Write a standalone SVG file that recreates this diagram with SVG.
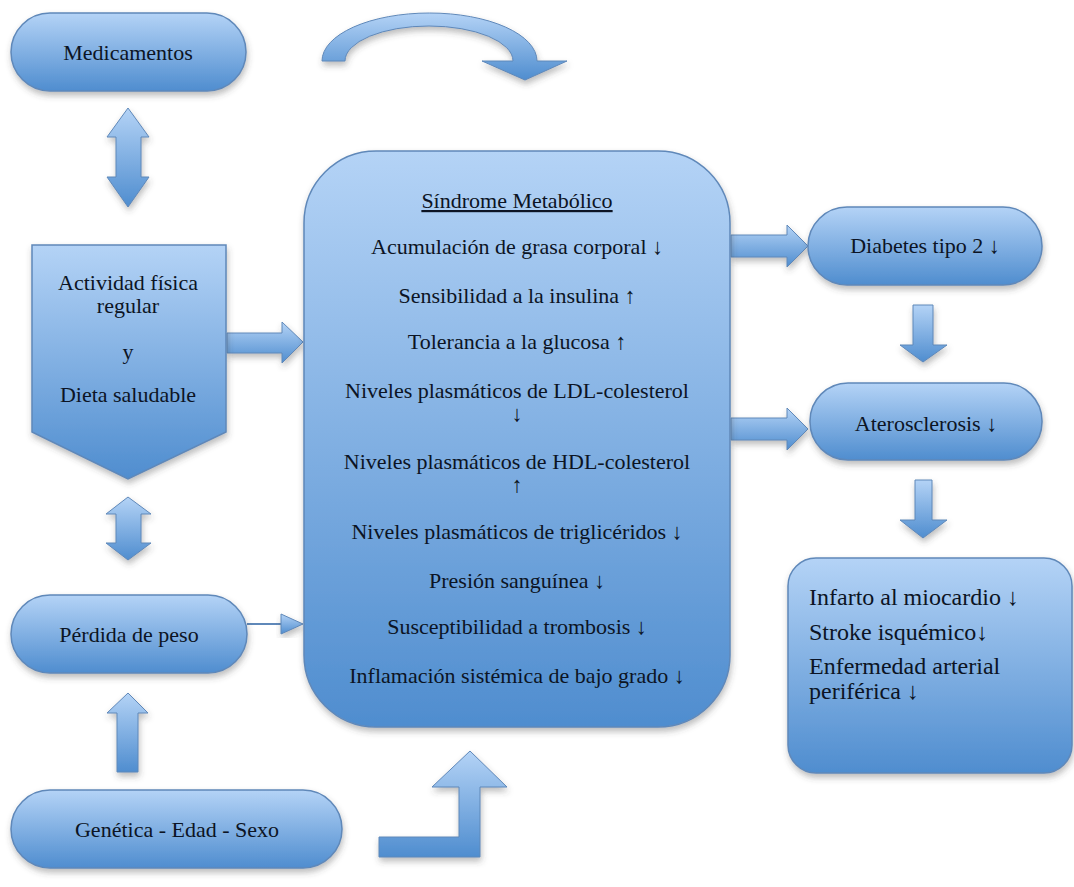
<svg xmlns="http://www.w3.org/2000/svg" width="1074" height="887" viewBox="0 0 1074 887">
<style>
.shape{fill:url(#g);stroke:#5f88b9;stroke-width:1.5;filter:url(#sh)}
.arr{fill:url(#g);stroke:#5f88b9;stroke-width:1;filter:url(#sh)}
.t{font-family:"Liberation Serif","Times New Roman",serif;font-size:22px;fill:#0c1424;text-anchor:middle}
.r{font-family:"Liberation Serif","Times New Roman",serif;font-size:24px;fill:#0c1424}
</style>
<defs>
<linearGradient id="g" x1="0" y1="0" x2="0" y2="1">
<stop offset="0" stop-color="#b4d3f6"/>
<stop offset="1" stop-color="#4f8dcf"/>
</linearGradient>
<filter id="sh" x="-20%" y="-20%" width="140%" height="140%">
<feDropShadow dx="1" dy="4" stdDeviation="3" flood-color="#444" flood-opacity="0.35"/>
</filter>
</defs>
<rect width="1074" height="887" fill="#ffffff"/>

<g id="connectors">
<path class="arr" d="M322,61 A107.5,48 0 0 1 537,61 L567,61 L525,80 L482,61 L513,61 A84,35 0 0 0 345,61 Z"/>
<path class="arr" d="M128,108 L149,137 L141,137 L141,177 L149,177 L128,207 L107,177 L116,177 L116,137 L107,137 Z"/>
<path class="arr" d="M128,497 L151,514 L141,514 L141,543 L151,543 L128,560 L106,543 L116,543 L116,514 L106,514 Z"/>
<path class="arr" d="M128,693 L148,713 L138,713 L138,772 L117,772 L117,713 L107,713 Z"/>
<path class="arr" d="M227,333 L282,333 L282,322 L303,342 L282,363 L282,353 L227,353 Z"/>
<line x1="247" y1="624" x2="282" y2="624" stroke="#5f88b9" stroke-width="2"/>
<path class="arr" d="M281,614 L303,624 L281,634 Z"/>
<path class="arr" d="M731,235 L787,235 L787,225 L808,246 L787,267 L787,257 L731,257 Z"/>
<path class="arr" d="M731,418 L787,418 L787,408 L808,429 L787,450 L787,440 L731,440 Z"/>
<path class="arr" d="M913,305 L933,305 L933,345 L947,345 L923,362 L900,345 L913,345 Z"/>
<path class="arr" d="M915,480 L932,480 L932,520 L947,520 L923,538 L900,520 L915,520 Z"/>
<path class="arr" d="M379,837 L459,837 L459,787 L432,787 L470,751 L507,787 L480,787 L480,857 L379,857 Z"/>
</g>

<g id="medicamentos">
<rect class="shape" x="11" y="13" width="235" height="78" rx="39"/>
<text class="t" x="128" y="60">Medicamentos</text>
</g>

<g id="actividad">
<path class="shape" d="M32,245 L226,245 L226,432 L128,479 L32,432 Z"/>
<text class="t" x="128" y="290">Actividad física</text>
<text class="t" x="128" y="313">regular</text>
<text class="t" x="128" y="359">y</text>
<text class="t" x="128" y="402">Dieta saludable</text>
</g>

<g id="perdida">
<rect class="shape" x="11" y="595" width="236" height="78" rx="39"/>
<text class="t" x="129" y="642">Pérdida de peso</text>
</g>

<g id="genetica">
<rect class="shape" x="11" y="790" width="331" height="78" rx="39"/>
<text class="t" x="177" y="837">Genética - Edad - Sexo</text>
</g>

<g id="sindrome">
<rect class="shape" x="304" y="151" width="426" height="576" rx="72"/>
<text class="t" x="517" y="208" text-decoration="underline">Síndrome Metabólico</text>
<text class="t" x="517" y="254">Acumulación de grasa corporal ↓</text>
<text class="t" x="517" y="303">Sensibilidad a la insulina ↑</text>
<text class="t" x="517" y="349">Tolerancia a la glucosa ↑</text>
<text class="t" x="517" y="398">Niveles plasmáticos de LDL-colesterol</text>
<text class="t" x="517" y="421">↓</text>
<text class="t" x="517" y="469">Niveles plasmáticos de HDL-colesterol</text>
<text class="t" x="517" y="492">↑</text>
<text class="t" x="517" y="539">Niveles plasmáticos de triglicéridos ↓</text>
<text class="t" x="517" y="588">Presión sanguínea ↓</text>
<text class="t" x="517" y="634">Susceptibilidad a trombosis ↓</text>
<text class="t" x="517" y="683">Inflamación sistémica de bajo grado ↓</text>
</g>

<g id="diabetes">
<rect class="shape" x="808" y="207" width="234" height="78" rx="39"/>
<text class="t" x="925" y="253">Diabetes tipo 2 ↓</text>
</g>

<g id="aterosclerosis">
<rect class="shape" x="810" y="383" width="232" height="77" rx="38"/>
<text class="t" x="926" y="431">Aterosclerosis ↓</text>
</g>

<g id="eventos">
<rect class="shape" x="788" y="558" width="284" height="215" rx="28"/>
<text class="r" x="809" y="605">Infarto al miocardio ↓</text>
<text class="r" x="809" y="640">Stroke isquémico↓</text>
<text class="r" x="809" y="674">Enfermedad arterial</text>
<text class="r" x="809" y="699">periférica ↓</text>
</g>
</svg>
